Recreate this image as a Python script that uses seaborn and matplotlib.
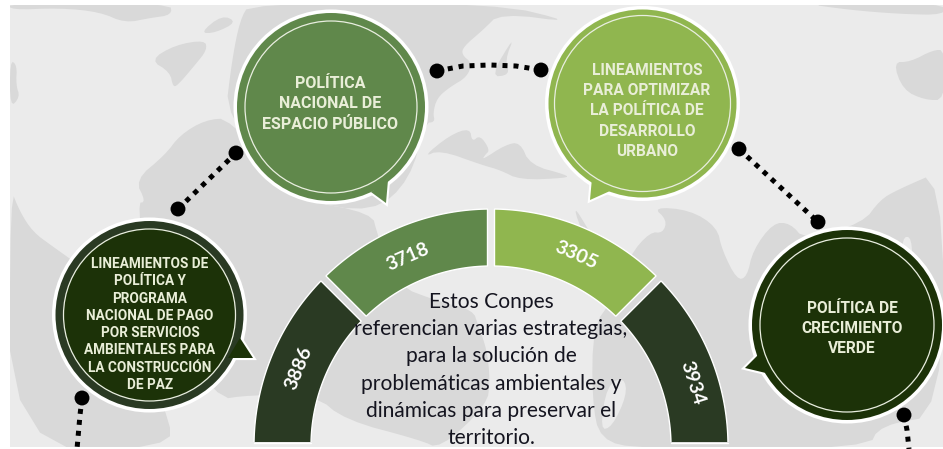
import numpy as np
import pandas as pd
import matplotlib
matplotlib.use("Agg")
import matplotlib.pyplot as plt
from matplotlib.patches import Circle, Ellipse, Polygon, Rectangle
import seaborn as sns

# arc values, left to right
arc_values = [3886, 3718, 3305, 3934]
arc_colors = ["#2a3a23", "#60884b", "#90b64f", "#2a3a23"]
label_shift = [0.5, 1.2, -1.5, -5]
label_r = [207, 206, 209, 211]

center_lines = ["Estos Conpes", "referencian varias estrategias,", "para la solución de",
                "problemáticas ambientales y", "dinámicas para preservar el", "territorio."]

# speech bubbles
bubble_text = [
    ["LINEAMIENTOS DE", "POLÍTICA Y", "PROGRAMA", "NACIONAL DE PAGO", "POR SERVICIOS",
     "AMBIENTALES PARA", "LA CONSTRUCCIÓN", "DE PAZ"],
    ["POLÍTICA", "NACIONAL DE", "ESPACIO PÚBLICO"],
    ["LINEAMIENTOS", "PARA OPTIMIZAR", "LA POLÍTICA DE", "DESARROLLO", "URBANO"],
    ["POLÍTICA DE", "CRECIMIENTO", "VERDE"],
]
bubble_x = [149.5, 331, 642.5, 847]
bubble_y = [315, 107, 103.5, 325]
bubble_r = [94, 94, 94, 95]
ring_r = [86, 86, 88, 87]
bubble_color = ["#2a3a23", "#60884b", "#90b64f", "#1c3208"]
core_color = ["#1c3208", "#60884b", "#90b64f", "#1c3208"]
tail_color = ["#1c3208", "#60884b", "#90b64f", "#1c3208"]
tails = [
    [(253, 358), (228, 358), (240, 338)],
    [(386, 203), (371, 192), (388, 180)],
    [(590, 200), (592, 178), (610, 191)],
    [(745, 368), (758, 355), (770, 374)],
]
text_x = [150, 330, 647, 852]
text_base = [268, 88, 75, 313]
text_step = [17.3, 20.5, 20.2, 20]
text_size = [9.8, 11.5, 11.2, 11.2]

# dotted connectors
links = {
    "a": ([178, 236], [209, 153]),
    "b": ([437, 463, 490, 516, 541], [71, 66, 65, 66, 70]),
    "c": ([739, 818], [149, 222]),
    "d": ([82, 80, 77], [398, 415, 449]),
    "e": ([904, 907, 909], [415, 430, 449]),
}

# map shapes behind everything
land_gray = [
    [(10, 187), (20, 212), (33, 232), (52, 246), (100, 280), (170, 415), (170, 449), (10, 449)],
    [(137, 203), (146, 202), (135, 180), (165, 155), (180, 135), (205, 120), (230, 118), (300, 200),
     (372, 213), (377, 233), (395, 285), (440, 302), (473, 310), (478, 325), (487, 350), (490, 380),
     (487, 405), (440, 449), (420, 440), (345, 420), (315, 395), (250, 395), (215, 400), (150, 290)],
    [(225, 118), (232, 60), (240, 20), (250, 3), (495, 3), (577, 23), (500, 13), (483, 30), (463, 47),
     (462, 55), (472, 63), (467, 77), (450, 87), (437, 98), (433, 113), (435, 122), (425, 123),
     (410, 180), (373, 213), (300, 200)],
    [(150, 60), (175, 45), (205, 40), (207, 50), (195, 65), (178, 85), (173, 87), (170, 72)],
    [(200, 33), (222, 15), (237, 22), (215, 33)],
    [(10, 60), (17, 65), (16, 85), (20, 97), (10, 108)],
    [(10, 3), (170, 3), (172, 15), (150, 18), (125, 23), (100, 12), (60, 8), (10, 10)],
    [(423, 157), (450, 135), (470, 128), (472, 142), (480, 135), (490, 150), (485, 155), (482, 160),
     (505, 145), (520, 142), (530, 165), (567, 175), (567, 178), (520, 180), (500, 170), (482, 165), (440, 150)],
    [(490, 77), (515, 35), (505, 60), (510, 75)],
    [(572, 203), (590, 232), (600, 250), (585, 240)],
    [(593, 327), (612, 300), (630, 255), (650, 232), (663, 233), (667, 220), (653, 207), (690, 210),
     (717, 227), (722, 250), (737, 280), (747, 277), (753, 250), (773, 223), (790, 223), (805, 240),
     (863, 223), (880, 200), (897, 190), (943, 170), (943, 415), (880, 425), (868, 449), (640, 449),
     (600, 440), (592, 400)],
    [(893, 62), (910, 62), (933, 50), (945, 50), (945, 100), (925, 100), (903, 90)],
    [(800, 3), (945, 3), (945, 15), (900, 14), (850, 10)],
]
land_light = [
    [(600, 430), (607, 385), (624, 377), (627, 395), (612, 427)],
    [(902, 237), (912, 237), (912, 273), (902, 273)],
]


def smooth(pts, rounds=2):
    # corner cutting so the map edges do not look like polygons
    pts = np.array(pts, dtype=float)
    for _ in range(rounds):
        nxt = np.roll(pts, -1, axis=0)
        pts = np.column_stack([0.75 * pts + 0.25 * nxt, 0.25 * pts + 0.75 * nxt]).reshape(-1, 2)
    return pts


sns.set_theme(style="white")
plt.rcParams["font.family"] = ["Lato", "DejaVu Sans"]

fig, ax = plt.subplots(figsize=(9.43, 4.49), dpi=100)
fig.subplots_adjust(0, 0, 1, 1)

back = Rectangle((10, 5), 940, 442, facecolor="#ebebeb", edgecolor="none", zorder=0)
ax.add_patch(back)
for shape in land_gray:
    p = Polygon(smooth(shape), facecolor="#d9d9d9", edgecolor="none", zorder=1)
    ax.add_patch(p)
    p.set_clip_path(back)
for shape in land_light:
    p = Polygon(smooth(shape), facecolor="#ebebeb", edgecolor="none", zorder=1.1)
    ax.add_patch(p)
    p.set_clip_path(back)

# half ring, one equal slice per value
cx, cy = 491, 446
r_out, r_in = 237, 180
gap = 3.5
step = 180 / len(arc_values)
arc_clip = Rectangle((0, 0), 943, 442, transform=ax.transData)
for i, val in enumerate(arc_values):
    a1 = np.radians(180 - i * step)
    a2 = np.radians(180 - (i + 1) * step)
    # keep the gaps between slices parallel-sided
    d_out = np.arcsin(gap / r_out) if i > 0 else 0
    e_out = np.arcsin(gap / r_out) if i < len(arc_values) - 1 else 0
    d_in = np.arcsin(gap / r_in) if i > 0 else 0
    e_in = np.arcsin(gap / r_in) if i < len(arc_values) - 1 else 0
    t_out = np.linspace(a1 - d_out, a2 + e_out, 60)
    t_in = np.linspace(a2 + e_in, a1 - d_in, 60)
    xs = np.r_[cx + r_out * np.cos(t_out), cx + r_in * np.cos(t_in)]
    ys = np.r_[cy - r_out * np.sin(t_out), cy - r_in * np.sin(t_in)]
    seg = Polygon(np.column_stack([xs, ys]), facecolor=arc_colors[i], edgecolor="white", lw=1, zorder=2)
    ax.add_patch(seg)
    seg.set_clip_path(arc_clip)
    mid = np.degrees((a1 + a2) / 2) + label_shift[i]
    lx = cx + label_r[i] * np.cos(np.radians(mid))
    ly = cy - label_r[i] * np.sin(np.radians(mid))
    ax.text(lx, ly, str(val), color="white", fontsize=14, fontweight="bold", rotation=mid - 90,
            rotation_mode="anchor", ha="center", va="center", zorder=3)
ax.plot([254, 311], [442.5, 442.5], color="white", lw=1, zorder=2.5)
ax.plot([671, 728], [442.5, 442.5], color="white", lw=1, zorder=2.5)

# connectors and their end dots
for key, (lx, ly) in links.items():
    link_df = pd.DataFrame({"x": lx, "y": ly})
    sns.lineplot(data=link_df, x="x", y="y", sort=False, estimator=None, color="black", lw=3.6,
                 linestyle=(0, (1, 1.2)), ax=ax, zorder=4)
dots = pd.DataFrame({"x": [178, 236, 437, 541, 739, 818, 82, 904],
                     "y": [209, 153, 71, 70, 149, 222, 398, 415]})
sns.scatterplot(data=dots, x="x", y="y", color="black", s=115, edgecolor="none", ax=ax, zorder=5, legend=False)
ax.set_xlim(0, 943)
ax.set_ylim(449, 0)
ax.axis("off")

# bubbles
for i in range(len(bubble_text)):
    x0, y0, r = bubble_x[i], bubble_y[i], bubble_r[i]
    ax.add_patch(Polygon(tails[i], facecolor="white", edgecolor="white", lw=3, zorder=6))
    ax.add_patch(Circle((x0, y0), r + 3.5, facecolor="white", edgecolor="none", zorder=6))
    ax.add_patch(Circle((x0, y0), r, facecolor=bubble_color[i], edgecolor="none", zorder=7))
    ax.add_patch(Polygon(tails[i], facecolor=tail_color[i], edgecolor="none", zorder=7))
    ax.add_patch(Ellipse((x0, y0), 2 * ring_r[i], 2 * ring_r[i], facecolor=core_color[i],
                         edgecolor="#e9eee0", lw=0.9, zorder=8))
    for j, line in enumerate(bubble_text[i]):
        ax.text(text_x[i], text_base[i] + j * text_step[i], line, color="#e9eed8", fontsize=text_size[i],
                family=["Roboto", "DejaVu Sans"], fontweight="bold", ha="center", va="baseline", zorder=9)

# text in the middle of the ring
for j, line in enumerate(center_lines):
    ax.text(491, 308 + j * 27.2, line, color="#14141f", fontsize=15.1, ha="center", va="baseline", zorder=10)

plt.savefig("out.png", dpi=100)
